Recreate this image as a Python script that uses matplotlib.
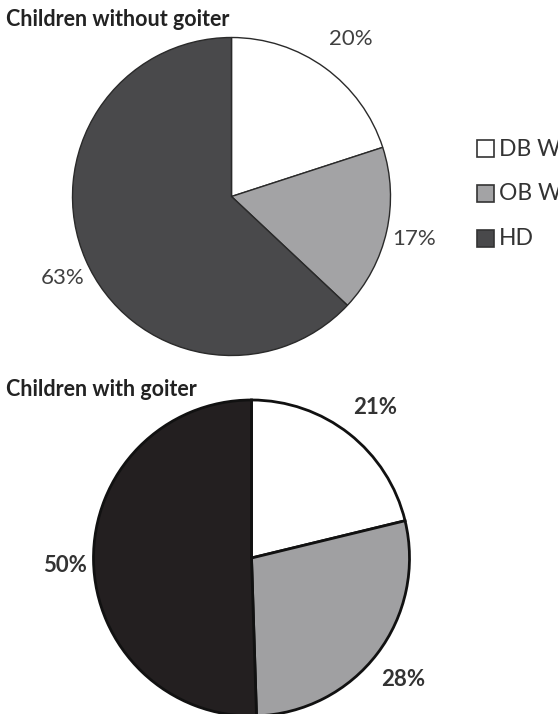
import matplotlib.pyplot as plt
from matplotlib.patches import Rectangle

# Data
categories = ['DB W', 'OB W', 'HD']
without_goiter = [20, 17, 63]
with_goiter = [21, 28, 50]
without_labels = ['20%', '17%', '63%']
with_labels = ['21%', '28%', '50%']

plt.rcParams['font.family'] = ['Lato', 'DejaVu Sans']

fig = plt.figure(figsize=(5.58, 7.14), dpi=100)
W, H = 558, 714


def pie_axes(cx, cy, r):
    # axes box in pixel terms of the figure, converted to fractions
    return fig.add_axes([(cx - r) / W, (H - cy - r) / H, 2 * r / W, 2 * r / H])


# Top pie
ax1 = pie_axes(231.5, 196.5, 159)
ax1.pie(without_goiter, colors=['white', '#a3a3a5', '#49494b'], startangle=90,
        counterclock=False, wedgeprops=dict(edgecolor='#2a2a2a', linewidth=1.0))
ax1.set_xlim(-1, 1)
ax1.set_ylim(-1, 1)
label_pos1 = [(0.75, 0.99), (1.15, -0.27), (-1.06, -0.51)]
for (x, y), t in zip(label_pos1, without_labels):
    ax1.text(x, y, t, ha='center', va='center', fontsize=16, color='#404040',
             clip_on=False)

# Bottom pie
ax2 = pie_axes(251.5, 558, 158)
ax2.pie(with_goiter, colors=['white', '#a0a0a2', '#231f20'], startangle=90,
        counterclock=False, wedgeprops=dict(edgecolor='#111111', linewidth=2.0))
ax2.set_xlim(-1, 1)
ax2.set_ylim(-1, 1)
label_pos2 = [(0.78, 0.95), (0.96, -0.77), (-1.18, -0.05)]
for (x, y), t in zip(label_pos2, with_labels):
    ax2.text(x, y, t, ha='center', va='center', fontsize=16, color='#333333',
             fontweight='bold', clip_on=False)

# Titles
fig.text(6 / W, 1 - 20 / H, 'Children without goiter', fontsize=15.5,
         fontweight='bold', color='#222222', ha='left', va='center')
fig.text(6 / W, 1 - 390 / H, 'Children with goiter', fontsize=15.5,
         fontweight='bold', color='#222222', ha='left', va='center')

# Legend
legend_colors = ['white', '#a3a3a5', '#49494b']
for i, (name, c) in enumerate(zip(categories, legend_colors)):
    y = 140 + i * 45
    fig.patches.append(Rectangle((477 / W, 1 - (y + 17) / H), 17 / W, 17 / H,
                                 facecolor=c, edgecolor='#333333', linewidth=1.2,
                                 transform=fig.transFigure))
    fig.text(499 / W, 1 - (y + 9) / H, name, fontsize=16.5, color='#333333',
             ha='left', va='center')

fig.savefig('out.png', dpi=100)
